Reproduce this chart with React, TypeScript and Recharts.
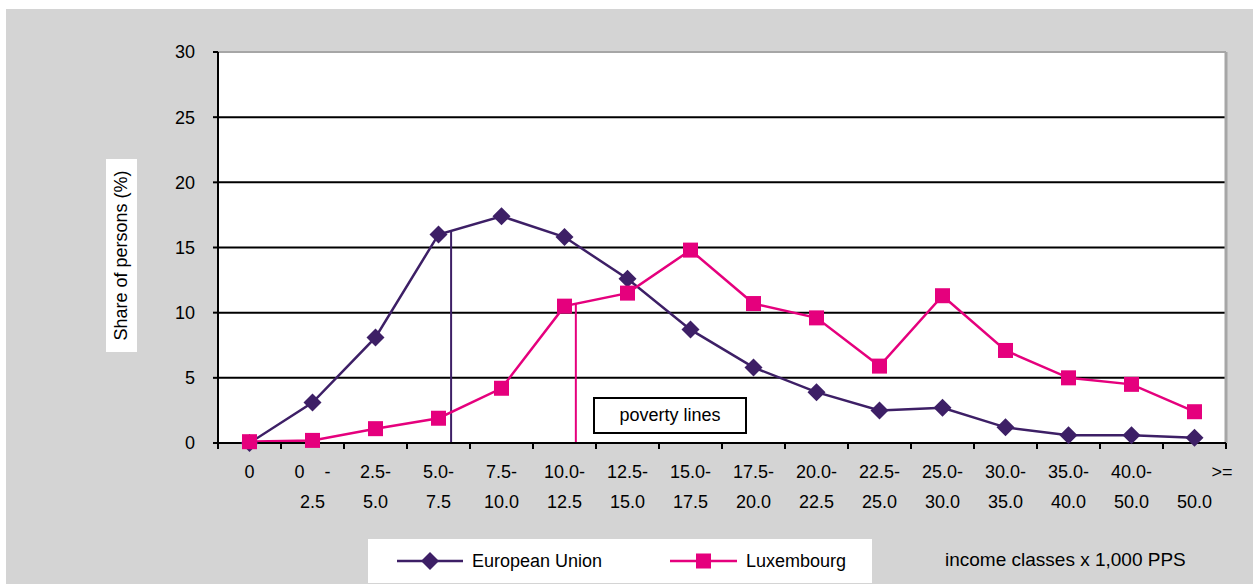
import { LineChart, Line, XAxis, YAxis, CartesianGrid, ReferenceLine } from "recharts";

// income classes (x 1,000 PPS), two-line tick labels
const classTop = ["0", "0    -", "2.5-", "5.0-", "7.5-", "10.0-", "12.5-", "15.0-", "17.5-", "20.0-", "22.5-", "25.0-", "30.0-", "35.0-", "40.0-", "           >="];
const classBottom = ["", "2.5", "5.0", "7.5", "10.0", "12.5", "15.0", "17.5", "20.0", "22.5", "25.0", "30.0", "35.0", "40.0", "50.0", "50.0"];

// share of persons (%)
const euShare = [0, 3.1, 8.1, 16.0, 17.4, 15.8, 12.6, 8.7, 5.8, 3.9, 2.5, 2.7, 1.2, 0.6, 0.6, 0.4];
const luxShare = [0.1, 0.2, 1.1, 1.9, 4.2, 10.5, 11.5, 14.8, 10.7, 9.6, 5.9, 11.3, 7.1, 5.0, 4.5, 2.4];

const yTicks = [0, 5, 10, 15, 20, 25, 30];

// poverty lines: position on the class scale and height where they meet the curve
const euPoverty = { at: 3.2, share: 16.3 };
const luxPoverty = { at: 5.18, share: 10.7 };

const EU = "#3d1f66";
const LUX = "#e5007d";
const GREY = "#d4d4d4";
const FONT = "'Liberation Sans', Arial, sans-serif";

const data = euShare.map((eu, i) => ({ idx: i, eu, lux: luxShare[i] }));
const classTicks: number[] = [];
for (let i = 0; i <= data.length; i++) {
  classTicks.push(i - 0.5);
  if (i < data.length) classTicks.push(i);
}

const diamond = (p: any) => {
  const { cx, cy, index } = p;
  if (cx == null || cy == null) return <g key={`d-${index}`} />;
  return <path key={`d-${index}`} d={`M${cx},${cy - 9}L${cx + 9},${cy}L${cx},${cy + 9}L${cx - 9},${cy}Z`} fill={EU} />;
};

const square = (p: any) => {
  const { cx, cy, index } = p;
  if (cx == null || cy == null) return <g key={`s-${index}`} />;
  return <rect key={`s-${index}`} x={cx - 7.5} y={cy - 7.5} width={15} height={15} fill={LUX} />;
};

const ClassTick = (props: any) => {
  const { x, y, payload } = props;
  const v = payload.value;
  if (!Number.isInteger(v)) {
    return <line x1={x} x2={x} y1={y} y2={y + 6} stroke="#000" strokeWidth={2} />;
  }
  return (
    <g>
      <text x={x} y={y + 35} textAnchor="middle" fontSize={18} fill="#000" xmlSpace="preserve" style={{ whiteSpace: "pre" }}>
        {classTop[v]}
      </text>
      <text x={x} y={y + 65} textAnchor="middle" fontSize={18} fill="#000">
        {classBottom[v]}
      </text>
    </g>
  );
};

export default function App() {
  return (
    <div style={{ position: "absolute", left: 0, top: 0, width: 1253, height: 584, background: "#fff", fontFamily: FONT }}>
      <div style={{ position: "absolute", left: 6, top: 9, width: 1247, height: 575, background: GREY }} />

      <div style={{ position: "absolute", left: 0, top: 0 }}>
        <LineChart width={1253} height={584} data={data} margin={{ top: 52, right: 27, left: 168, bottom: 71 }}>
          <CartesianGrid vertical={false} fill="#fff" stroke="#000" strokeWidth={2} />
          <XAxis
            dataKey="idx"
            type="number"
            domain={[-0.5, data.length - 0.5]}
            ticks={classTicks}
            interval={0}
            height={70}
            tickSize={0}
            tickMargin={0}
            tickLine={false}
            axisLine={{ stroke: "#000", strokeWidth: 2 }}
            tick={<ClassTick />}
          />
          <YAxis
            domain={[0, 30]}
            ticks={yTicks}
            interval={0}
            width={50}
            tickSize={5}
            tickMargin={18}
            tickLine={{ stroke: "#000", strokeWidth: 2 }}
            axisLine={{ stroke: "#000", strokeWidth: 2 }}
            tick={{ fill: "#000", fontSize: 18 }}
          />
          <ReferenceLine y={30} stroke="#a6a6a6" strokeWidth={2} />
          <ReferenceLine x={data.length - 0.5} stroke="#a6a6a6" strokeWidth={3} />
          <ReferenceLine
            segment={[{ x: euPoverty.at, y: 0 }, { x: euPoverty.at, y: euPoverty.share }]}
            stroke={EU}
            strokeWidth={2}
          />
          <ReferenceLine
            segment={[{ x: luxPoverty.at, y: 0 }, { x: luxPoverty.at, y: luxPoverty.share }]}
            stroke={LUX}
            strokeWidth={2}
          />
          <Line dataKey="eu" name="European Union" stroke={EU} strokeWidth={2.5} dot={diamond} activeDot={false} isAnimationActive={false} />
          <Line dataKey="lux" name="Luxembourg" stroke={LUX} strokeWidth={2.5} dot={square} activeDot={false} isAnimationActive={false} />
        </LineChart>
      </div>

      {/* y axis title */}
      <div style={{ position: "absolute", left: 106, top: 159, width: 31, height: 193, background: "#fff", display: "flex", alignItems: "center", justifyContent: "center" }}>
        <div style={{ transform: "rotate(-90deg)", whiteSpace: "nowrap", fontSize: 18, color: "#000" }}>Share of persons (%)</div>
      </div>

      {/* poverty lines note */}
      <div style={{ position: "absolute", left: 593, top: 397, width: 150, height: 33, background: "#fff", border: "2px solid #000", display: "flex", alignItems: "center", justifyContent: "center", fontSize: 18, color: "#000" }}>
        poverty lines
      </div>

      {/* legend */}
      <div style={{ position: "absolute", left: 368, top: 539, width: 504, height: 44, background: "#fff" }}>
        <svg style={{ position: "absolute", left: 29, top: 0 }} width={66} height={44}>
          <line x1={0} x2={66} y1={22} y2={22} stroke={EU} strokeWidth={2.5} />
          <path d="M33,13L42,22L33,31L24,22Z" fill={EU} />
        </svg>
        <div style={{ position: "absolute", left: 104, top: 0, lineHeight: "44px", fontSize: 18, color: "#000" }}>European Union</div>
        <svg style={{ position: "absolute", left: 302, top: 0 }} width={67} height={44}>
          <line x1={0} x2={67} y1={22} y2={22} stroke={LUX} strokeWidth={2.5} />
          <rect x={26} y={14.5} width={15} height={15} fill={LUX} />
        </svg>
        <div style={{ position: "absolute", left: 378, top: 0, lineHeight: "44px", fontSize: 18, color: "#000" }}>Luxembourg</div>
      </div>

      <div style={{ position: "absolute", left: 945, top: 548, lineHeight: "24px", fontSize: 19, color: "#000" }}>income classes x 1,000 PPS</div>
    </div>
  );
}
